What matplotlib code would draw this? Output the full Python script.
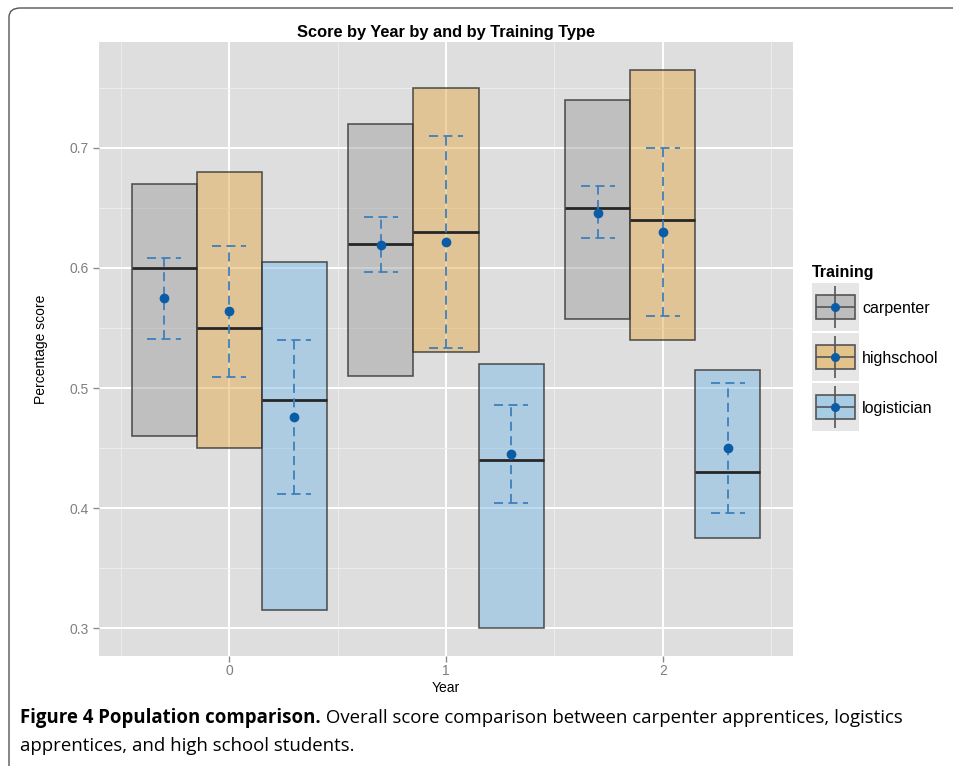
import matplotlib
matplotlib.use('Agg')
import matplotlib.pyplot as plt
import numpy as np
from matplotlib.patches import FancyBboxPatch, Rectangle
from matplotlib.colors import to_rgba

# ---------------- data ----------------
years = [0, 1, 2]
trainings = ['carpenter', 'highschool', 'logistician']

carpenter_high = [0.67, 0.72, 0.74]
carpenter_low = [0.46, 0.51, 0.5575]
carpenter_median = [0.60, 0.62, 0.65]
carpenter_mean = [0.575, 0.619, 0.646]
carpenter_ci_high = [0.608, 0.6425, 0.668]
carpenter_ci_low = [0.541, 0.597, 0.625]

highschool_high = [0.68, 0.75, 0.765]
highschool_low = [0.45, 0.53, 0.54]
highschool_median = [0.55, 0.63, 0.64]
highschool_mean = [0.564, 0.622, 0.63]
highschool_ci_high = [0.618, 0.71, 0.70]
highschool_ci_low = [0.509, 0.533, 0.560]

logistician_high = [0.605, 0.52, 0.515]
logistician_low = [0.315, 0.30, 0.375]
logistician_median = [0.49, 0.44, 0.43]
logistician_mean = [0.476, 0.445, 0.45]
logistician_ci_high = [0.540, 0.486, 0.504]
logistician_ci_low = [0.412, 0.404, 0.396]

y_ticks = [0.3, 0.4, 0.5, 0.6, 0.7]
title = 'Score by Year by and by Training Type'
caption_bold = 'Figure 4 Population comparison.'
caption_rest1 = ' Overall score comparison between carpenter apprentices, logistics'
caption_line2 = 'apprentices, and high school students.'

series = {
    'carpenter': (carpenter_low, carpenter_high, carpenter_median, carpenter_mean,
                  carpenter_ci_low, carpenter_ci_high),
    'highschool': (highschool_low, highschool_high, highschool_median, highschool_mean,
                   highschool_ci_low, highschool_ci_high),
    'logistician': (logistician_low, logistician_high, logistician_median, logistician_mean,
                    logistician_ci_low, logistician_ci_high),
}

# ---------------- style ----------------
fills = {'carpenter': '#a2a2a2', 'highschool': '#e2ac4e', 'logistician': '#7ebce6'}
fill_alpha = 0.5
edge_col = to_rgba('#333333', 0.8)
eb_col = '#3f7fbd'
mean_col = '#0b5ca6'
panel_bg = '#dedede'
FONT = 'Liberation Sans'
plt.rcParams['font.family'] = [FONT, 'DejaVu Sans']

W, H = 954, 766
fig = plt.figure(figsize=(W / 100, H / 100), dpi=100)
fig.patch.set_facecolor('white')


def fx(px):
    return px / W


def fy(py):
    return 1 - py / H


# outer rounded frame
frame = FancyBboxPatch((fx(9), fy(H + 20)), fx(W + 40) - fx(9), fy(8) - fy(H + 20),
                       boxstyle='round,pad=0,rounding_size=0.012',
                       transform=fig.transFigure, facecolor='none',
                       edgecolor='#555555', lw=1.0, zorder=0)
fig.patches.append(frame)

ax = fig.add_axes([fx(99), fy(656), fx(793) - fx(99), fy(42) - fy(656)])
ax.set_facecolor(panel_bg)
ax.set_xlim(-0.6, 2.6)
ax.set_ylim(0.27675, 0.78825)
ax.set_yticks(y_ticks)
ax.set_yticklabels([f'{v:.1f}' for v in y_ticks])
ax.set_yticks([0.35, 0.45, 0.55, 0.65, 0.75], minor=True)
ax.set_xticks(years)
ax.set_xticks([-0.5, 0.5, 1.5, 2.5], minor=True)
ax.grid(which='major', color='white', lw=1.4)
ax.grid(which='minor', color='#efefef', lw=0.6)
ax.set_axisbelow(True)
for s in ax.spines.values():
    s.set_visible(False)
ax.tick_params(which='major', length=4, width=1, color='#8a8a8a',
               labelcolor='#7f7f7f', labelsize=10)
ax.tick_params(axis='x', which='major', pad=2)
ax.tick_params(which='minor', length=0)

offsets = [-0.3, 0.0, 0.3]
bw = 0.3
cap_half = 0.077
for i, t in enumerate(trainings):
    low, high, med, mean, cil, cih = (np.array(a) for a in series[t])
    x = np.array(years) + offsets[i]
    ax.bar(x, high - low, bottom=low, width=bw,
           facecolor=to_rgba(fills[t], fill_alpha), edgecolor=edge_col,
           linewidth=1.2, zorder=2)
    ax.hlines(med, x - bw / 2, x + bw / 2, color='#262626', lw=2.0, zorder=3)
    ax.vlines(x, cil, cih, color=eb_col, lw=1.3, linestyles=[(0, (5, 3))], zorder=4)
    ax.hlines(cil, x - cap_half, x + cap_half, color=eb_col, lw=1.3,
              linestyles=[(0, (5, 3))], zorder=4)
    ax.hlines(cih, x - cap_half, x + cap_half, color=eb_col, lw=1.3,
              linestyles=[(0, (5, 3))], zorder=4)
    ax.plot(x, mean, 'o', color=mean_col, ms=6, zorder=5)

fig.text(fx(446), fy(33), title, ha='center', va='center',
         fontweight='bold', fontsize=11.8)
fig.text(fx(446), fy(688), 'Year', ha='center', va='center', fontsize=10)
fig.text(fx(41), fy(349), 'Percentage score', ha='center', va='center',
         rotation=90, fontsize=10)

# ---------------- legend ----------------
fig.text(fx(812), fy(272), 'Training', ha='left', va='center',
         fontweight='bold', fontsize=11.5)
key_tops = [283, 333, 383]
for t, top in zip(trainings, key_tops):
    kax = fig.add_axes([fx(812), fy(top + 48), fx(47), 48 / H])
    kax.set_facecolor('#e6e6e6')
    kax.set_xlim(0, 1)
    kax.set_ylim(0, 1)
    kax.set_xticks([])
    kax.set_yticks([])
    for s in kax.spines.values():
        s.set_visible(False)
    kax.vlines(0.5, 0.06, 0.94, color='#555555', lw=1.2)
    kax.add_patch(Rectangle((0.09, 0.24), 0.82, 0.5,
                            facecolor=to_rgba(fills[t], fill_alpha + 0.1),
                            edgecolor='#555555', lw=1.2))
    kax.hlines(0.49, 0.09, 0.91, color='#555555', lw=1.2)
    kax.plot([0.5], [0.49], 'o', color=mean_col, ms=5.5)
    fig.text(fx(862), fy(top + 25), t, ha='left', va='center', fontsize=11.5)

# ---------------- caption ----------------
cap_font = ['Open Sans', 'DejaVu Sans']
cap_size = 13
tb = fig.text(fx(20), fy(718), caption_bold, ha='left', va='center',
              fontweight='bold', fontsize=cap_size, family=cap_font)
fig.canvas.draw()
bb = tb.get_window_extent()
tr = fig.text(bb.x1 / W, fy(718), caption_rest1, ha='left', va='center',
              fontsize=cap_size, family=cap_font)
fig.canvas.draw()
right = tr.get_window_extent().x1
scale = (898 - 20) / (right - 20)
cap_size = cap_size * scale
tb.set_fontsize(cap_size)
fig.canvas.draw()
bb = tb.get_window_extent()
tr.set_fontsize(cap_size)
tr.set_x(bb.x1 / W)
fig.text(fx(20), fy(746), caption_line2, ha='left', va='center',
         fontsize=cap_size, family=cap_font)

fig.savefig('out.png', dpi=100)
